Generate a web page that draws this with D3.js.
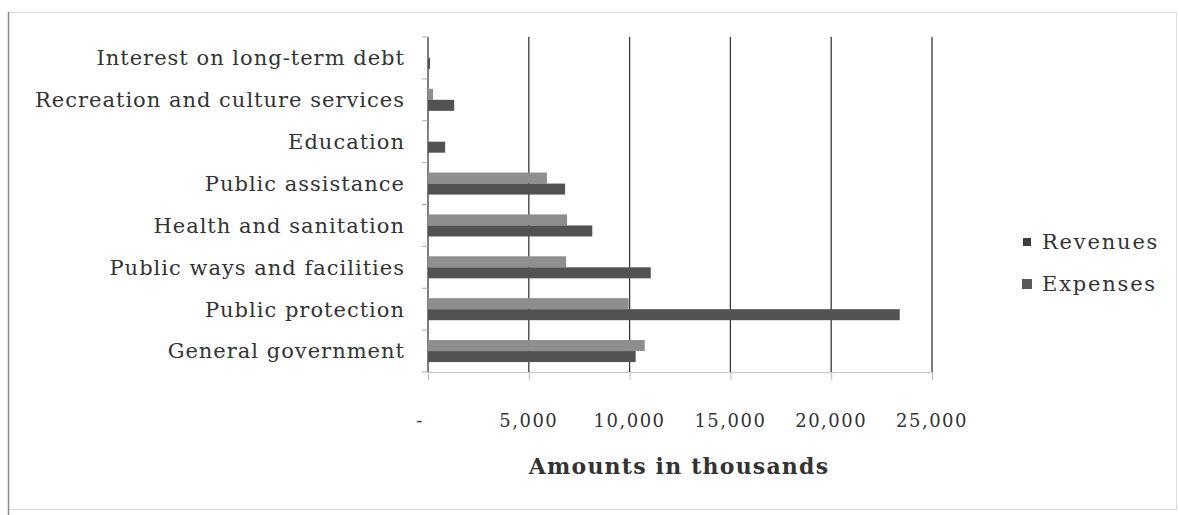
<!DOCTYPE html>
<html>
<head>
<meta charset="utf-8">
<script src="https://cdn.jsdelivr.net/npm/d3@7"></script>
<style>
  body { margin: 0; background: #fff; }
  text { font-family: "DejaVu Serif", serif; fill: #333; }
</style>
</head>
<body>
<div id="caja"></div>
<script>
// datos (miles)
var categorias = ["Interest on long-term debt", "Recreation and culture services", "Education",
  "Public assistance", "Health and sanitation", "Public ways and facilities",
  "Public protection", "General government"];
var revenues = [0, 250, 50, 5900, 6900, 6850, 9950, 10750];
var expenses = [100, 1300, 850, 6800, 8150, 11050, 23400, 10300];
var series = ["Revenues", "Expenses"];
var ticks = [0, 5000, 10000, 15000, 20000, 25000];

var w = 1179, h = 515;
var colores = {"Revenues": "#8e8e8e", "Expenses": "#525252"};

var svg = d3.select('#caja').append('svg')
  .attr('width', w).attr('height', h);

// marco del grafico
svg.append("rect").attr("x", 8.5).attr("y", 12.5).attr("width", 1168).attr("height", 497)
  .attr("fill", "none").attr("stroke", "#dcdcdc");
svg.append("line").attr("x1", 8.5).attr("x2", 8.5).attr("y1", 12).attr("y2", 515)
  .attr("stroke", "#888").attr("stroke-width", 1.5);

var x = d3.scaleLinear().domain([0, 25000]).range([428, 932]);
var y = d3.scaleBand().domain(categorias).range([37, 372]);
var ySub = d3.scaleBand().domain(series).range([0, y.bandwidth()]).paddingOuter(0.9);

// ejes y rejilla
svg.append("g").attr("transform", "translate(0,372)")
  .call(d3.axisBottom(x).tickValues(ticks).tickSize(8).tickFormat(""))
  .call(function(g) {
    g.select(".domain").attr("stroke", "#c8c8c8");
    g.selectAll(".tick line").attr("stroke", "#bbb");
  });

svg.append("g").selectAll("line").data(ticks).enter().append("line")
  .attr("x1", function(d) { return x(d); }).attr("x2", function(d) { return x(d); })
  .attr("y1", 37).attr("y2", 372)
  .attr("stroke", "#3a3a3a").attr("stroke-width", 1.3);

// ticks del eje de categorias
svg.append("g").selectAll("line").data(categorias.concat(["_fin"])).enter().append("line")
  .attr("x1", 422).attr("x2", 428)
  .attr("y1", function(d, i) { return 37 + i * y.step(); })
  .attr("y2", function(d, i) { return 37 + i * y.step(); })
  .attr("stroke", "#aaa");

// barras
var filas = categorias.map(function(c, i) {
  return {categ: c, vals: [{s: "Revenues", v: revenues[i]}, {s: "Expenses", v: expenses[i]}]};
});
var grupos = svg.append("g").selectAll("g").data(filas).enter().append("g")
  .attr("transform", function(d) { return "translate(0," + y(d.categ) + ")"; });
grupos.selectAll("rect").data(function(d) { return d.vals; }).enter().append("rect")
  .attr("x", x(0))
  .attr("y", function(d) { return ySub(d.s); })
  .attr("width", function(d) { return x(d.v) - x(0); })
  .attr("height", ySub.bandwidth())
  .attr("fill", function(d) { return colores[d.s]; });

// etiquetas de categorias
svg.append("g").selectAll("text").data(categorias).enter().append("text")
  .text(function(d) { return d; })
  .attr("x", 405)
  .attr("y", function(d) { return y(d) + y.bandwidth() / 2; })
  .attr("dy", "0.35em")
  .attr("text-anchor", "end")
  .attr("font-size", "21px")
  .attr("letter-spacing", "1px");

// etiquetas del eje x
svg.append("g").selectAll("text").data(ticks).enter().append("text")
  .text(function(d) { return d === 0 ? "-" : d3.format(",")(d); })
  .attr("x", function(d) { return d === 0 ? x(d) - 8 : x(d); })
  .attr("y", 427)
  .attr("text-anchor", "middle")
  .attr("font-size", "18px")
  .attr("letter-spacing", "1.5px");

svg.append("text").text("Amounts in thousands")
  .attr("x", 679).attr("y", 474)
  .attr("text-anchor", "middle")
  .attr("font-size", "22px").attr("font-weight", "bold")
  .attr("letter-spacing", "1.2px");

// leyenda
var ley = svg.append("g").selectAll("g").data(series).enter().append("g")
  .attr("transform", function(d, i) { return "translate(1027," + (242 + i * 42) + ")"; });
ley.append("rect")
  .attr("x", function(d, i) { return i ? -5 : -4; })
  .attr("y", function(d, i) { return i ? -5 : -4; })
  .attr("width", function(d, i) { return i ? 10 : 8; })
  .attr("height", function(d, i) { return i ? 10 : 8; })
  .attr("fill", function(d, i) { return i ? "#5a5a5a" : "#3c3c3c"; });
ley.append("text").text(function(d) { return d; })
  .attr("x", 15).attr("dy", "0.35em")
  .attr("font-size", "21px").attr("letter-spacing", "1.8px");
</script>
</body>
</html>
